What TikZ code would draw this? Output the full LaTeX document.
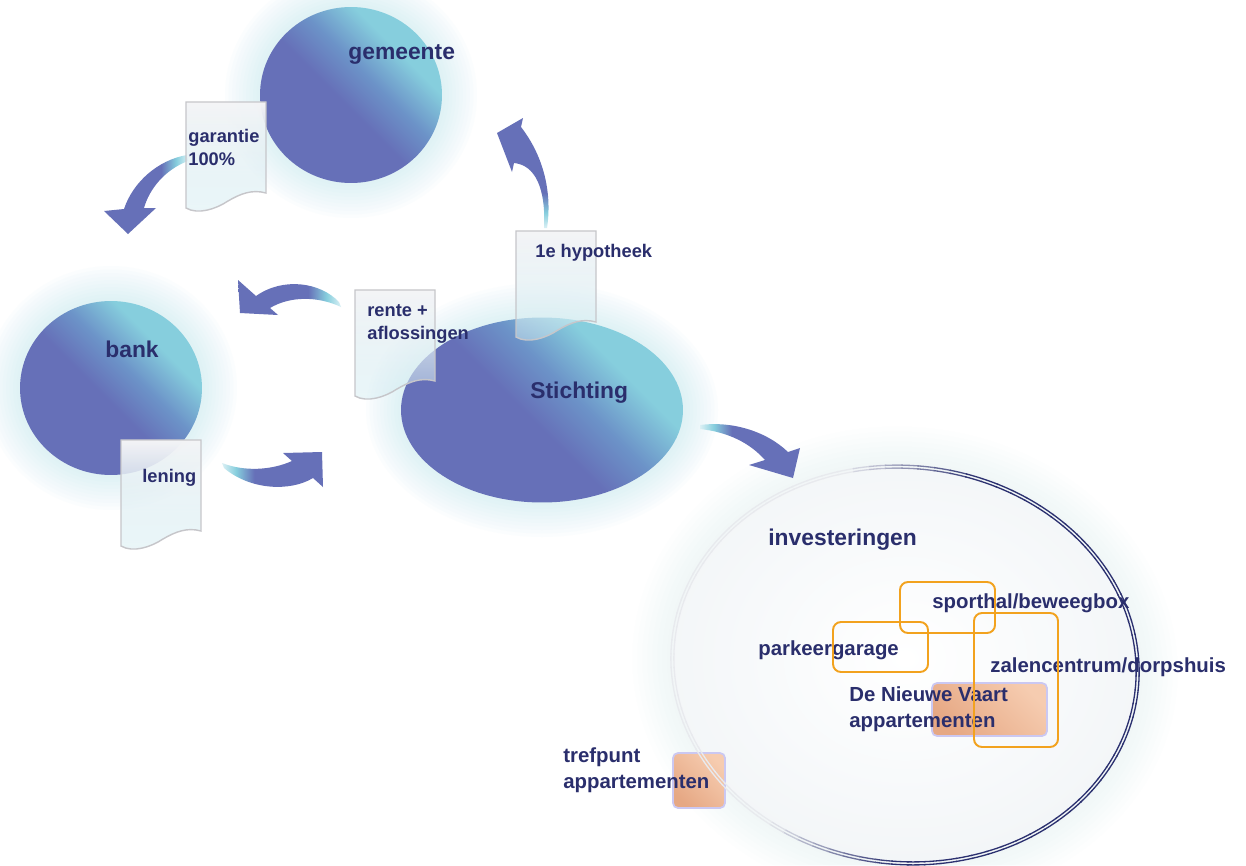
\documentclass[tikz,border=0pt]{standalone}
\usepackage{fontspec}
\setmainfont{Liberation Sans}
\usetikzlibrary{shapes.geometric,fadings}

\definecolor{hubblue}{HTML}{6670B8}
\definecolor{hubmid}{HTML}{6C93C8}
\definecolor{hubcyan}{HTML}{86CEDD}
\definecolor{hubglow}{HTML}{B4E3EC}
\definecolor{labelnavy}{HTML}{2A2E6C}
\definecolor{docpaper}{HTML}{F4F4F6}
\definecolor{doccyan}{HTML}{D2ECF2}
\definecolor{docedge}{HTML}{C6C6CA}
\definecolor{boxorange}{HTML}{F2A21E}
\definecolor{peachdark}{HTML}{E6A884}
\definecolor{peachlight}{HTML}{F6CCB0}
\definecolor{peachedge}{HTML}{CBC8F2}
\definecolor{ringnavy}{HTML}{2C3170}
\definecolor{ringgray}{HTML}{E8EAEE}
\definecolor{ringfill}{HTML}{F3F6F8}

% kleurverlopen
\pgfdeclareverticalshading{hubshade}{100bp}{color(0bp)=(hubblue); color(47bp)=(hubblue); color(57bp)=(hubmid); color(68bp)=(hubcyan); color(100bp)=(hubcyan)}
\pgfdeclarehorizontalshading{flowshade}{100bp}{color(0bp)=(hubblue); color(59bp)=(hubblue); color(68bp)=(hubcyan); color(75bp)=(hubcyan!30!white); color(100bp)=(hubcyan!30!white)}
\tikzfading[name=docfade, top color=transparent!0, middle color=transparent!5, bottom color=transparent!55]

\tikzset{
  hub/.style={ellipse, inner sep=0pt, shade, shading=hubshade, shading angle=-45},
  flowarrow/.style={shade, shading=flowshade},
  docfill/.style={top color=docpaper, bottom color=doccyan, path fading=docfade},
  docline/.style={draw=docedge, line width=0.8pt},
  docsheet/.pic={
    \path[docfill] (0,0) -- (80,0) -- (80,91) .. controls (66,87) and (54,92) .. (42,99) .. controls (30,107) and (12,113) .. (0,106) -- cycle;
    \draw[docline] (0,0) -- (80,0) -- (80,91) .. controls (66,87) and (54,92) .. (42,99) .. controls (30,107) and (12,113) .. (0,106) -- cycle;
  },
  labelbig/.style={font=\bfseries\fontsize{13pt}{15pt}\selectfont, text=labelnavy, inner sep=0pt, anchor=base west},
  labelmid/.style={font=\bfseries\fontsize{11.6pt}{14.7pt}\selectfont, text=labelnavy, inner sep=0pt, anchor=base west, align=left},
  labeldoc/.style={font=\bfseries\fontsize{10.4pt}{12.8pt}\selectfont, text=labelnavy, inner sep=0pt, anchor=base west, align=left},
  orangebox/.style={draw=boxorange, line width=1.1pt, rounded corners=0.16cm},
  peachbox/.style={draw=peachedge, line width=1pt, rounded corners=0.1cm, top color=peachlight, bottom color=peachdark, shading angle=-45},
}

\begin{document}
\begin{tikzpicture}[x=0.02cm, y=-0.02cm]
  \fill[white] (0,0) rectangle (1246,865);
  \useasboundingbox (0,0) rectangle (1246,865);

  % gloed rond de cirkels
  \foreach \cx/\cy/\rx/\ry in {351/95/91/88, 111/388/91/87, 542/410/141/92}
    \foreach \g in {1,...,10}
      \fill[hubglow, opacity=0.045] (\cx,\cy) ellipse [x radius=\rx*0.02cm+\g*0.07cm, y radius=\ry*0.02cm+\g*0.07cm];

  % investeringen (vlak)
  \begin{scope}[shift={(905,665)}, rotate=-6]
    \foreach \g in {1,...,8}
      \fill[hubglow, opacity=0.015] (0,0) ellipse [x radius=4.66cm+\g*0.1cm, y radius=3.96cm+\g*0.1cm];
    \shade[inner color=white, outer color=ringfill] (0,0) ellipse [x radius=4.66cm, y radius=3.96cm];
  \end{scope}

  % pijlen
  \coordinate (toBankA) at (128,234);
  \coordinate (toGemeente) at (497,133);
  \coordinate (toBankB) at (240,313);
  \coordinate (toStichting) at (322,452);
  \coordinate (toInvest) at (793,478);
  \shade[flowarrow, shading angle=0] (187,155) .. controls (158,160) and (133,182) .. (124,209) -- (104,211) -- (toBankA) -- (156,208) -- (144,208) .. controls (149,190) and (164,170) .. (188,161) -- cycle;
  \shade[flowarrow, shading angle=-90] (547,228) .. controls (552,195) and (545,158) .. (521,127) -- (523,118) -- (toGemeente) -- (512,172) -- (514,163) .. controls (535,165) and (546,188) .. (544,228) -- cycle;
  \shade[flowarrow, shading angle=0] (339,302) .. controls (320,282) and (283,277) .. (256,296) -- (238,280) -- (toBankB) -- (278,315) -- (270,308) .. controls (290,296) and (318,296) .. (341,307) -- cycle;
  \shade[flowarrow, shading angle=180] (222,463) .. controls (245,472) and (272,470) .. (292,461) -- (283,453) -- (toStichting) -- (323,487) -- (313,478) .. controls (290,492) and (250,490) .. (224,468) -- cycle;
  \shade[flowarrow, shading angle=180] (700,425) .. controls (730,421) and (765,430) .. (788,452) -- (800,448) -- (toInvest) -- (749,465) -- (765,460) .. controls (750,443) and (728,432) .. (700,429) -- cycle;

  % cirkels
  \node[hub, minimum width=3.64cm, minimum height=3.52cm] (gemeente) at (351,95) {};
  \node[hub, minimum width=3.64cm, minimum height=3.48cm] (bank) at (111,388) {};
  \node[hub, minimum width=5.64cm, minimum height=3.70cm] (stichting) at (542,410) {};

  % documenten
  \pic at (186,102) {docsheet};
  \pic at (355,290) {docsheet};
  \pic at (121,440) {docsheet};
  \pic at (516,231) {docsheet};

  % appartementen
  \path[peachbox] (932,683) rectangle (1047,736);
  \path[peachbox] (673,753) rectangle (725,808);

  % teksten
  \node[labelbig] (gemeentetxt) at (348,60) {gemeente};
  \node[labelbig] (banktxt) at (105,357) {bank};
  \node[labelbig] (stichtingtxt) at (530,398) {Stichting};
  \node[labelbig] (investtxt) at (768,545) {investeringen};
  \node[labeldoc] (garantie) at (188,165) {garantie\\100\%};
  \node[labeldoc] (rente) at (367,339) {rente +\\aflossingen};
  \node[labeldoc] (lening) at (142,482) {lening};
  \node[labeldoc] (hypotheek) at (535,257) {1e hypotheek};
  \node[labelmid] (sporthal) at (932,608) {sporthal/beweegbox};
  \node[labelmid] (parkeer) at (758,655) {parkeergarage};
  \node[labelmid] (zalen) at (990,672) {zalencentrum/dorpshuis};
  \node[labelmid] (nieuwevaart) at (849,727) {De Nieuwe Vaart\\appartementen};
  \node[labelmid] (trefpunt) at (563,788) {trefpunt\\appartementen};

  % projecten
  \draw[orangebox] (900,582) rectangle (995,633);
  \draw[orangebox] (833,622) rectangle (928,672);
  \draw[orangebox] (974,613) rectangle (1058,747);

  % rand investeringen
  \begin{scope}[shift={(905,665)}, rotate=-6]
    \foreach \a in {0,4,...,356} {
      \pgfmathsetmacro\ringw{max(0,min(100,(cos(\a-3)+0.42)*180))}
      \foreach \r in {-1.5,1.5}
        \draw[color=ringnavy!\ringw!ringgray, line width=0.75pt] plot[domain=\a:\a+4.3, samples=4, variable=\t] ({(233+\r)*cos(\t)},{(198+\r)*sin(\t)});
    }
  \end{scope}
\end{tikzpicture}
\end{document}
